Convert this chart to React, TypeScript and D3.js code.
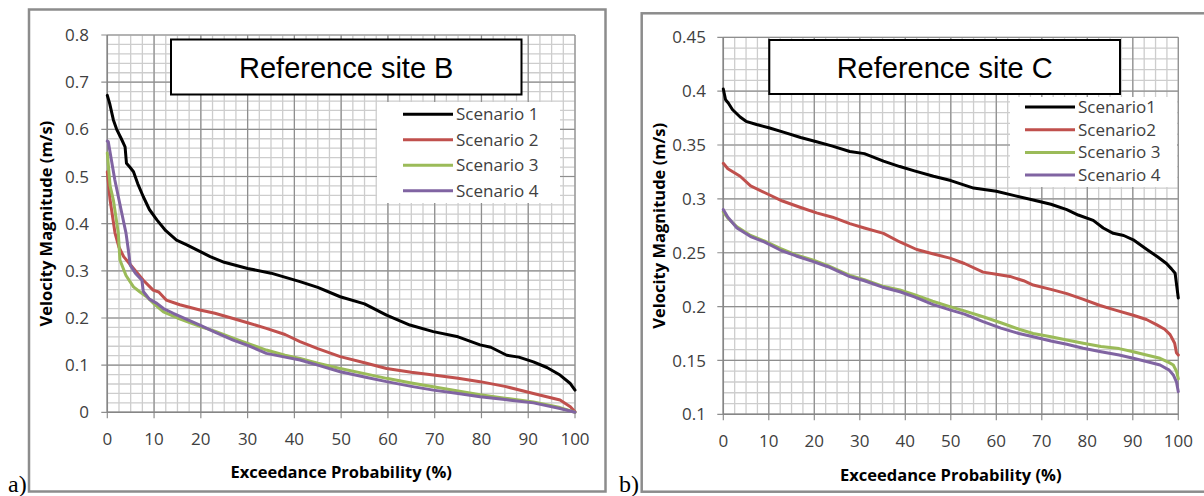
import React from 'react';
import * as d3 from 'd3';

type Pt = [number, number];

// ---------- Data: site B (exceedance %, velocity m/s) ----------
const siteBScenario1: Pt[] = [
  [0, 0.672], [0.5, 0.655], [1.3, 0.62], [2, 0.6], [3, 0.58], [3.8, 0.563], [4.1, 0.528],
  [4.8, 0.52], [5.6, 0.51], [6.5, 0.485], [7.7, 0.457], [9, 0.43], [10.6, 0.408],
  [12.5, 0.385], [14.8, 0.365], [17, 0.355], [20, 0.34], [22, 0.33], [25, 0.318],
  [30, 0.305], [35, 0.295], [41.2, 0.277], [45, 0.265], [49.8, 0.245], [55, 0.23],
  [59.7, 0.206], [64.7, 0.185], [69.7, 0.171], [75, 0.16], [79.7, 0.143], [82, 0.138],
  [85.4, 0.121], [88, 0.117], [91.1, 0.107], [94, 0.095], [96.8, 0.079], [99, 0.061], [100, 0.047],
];
const siteBScenario2: Pt[] = [
  [0, 0.51], [0.6, 0.45], [1.65, 0.38], [2.5, 0.35], [3.5, 0.33], [4.5, 0.318], [6, 0.3],
  [7.7, 0.28], [9.8, 0.259], [11, 0.255], [12.6, 0.238], [15.5, 0.228], [19.8, 0.217],
  [23, 0.21], [26.9, 0.199], [30, 0.19], [34, 0.178], [38, 0.165], [41.2, 0.15], [45, 0.135],
  [49.8, 0.118], [55, 0.105], [59.7, 0.093], [65, 0.085], [69.7, 0.079], [75, 0.072],
  [79.7, 0.065], [85, 0.055], [91.1, 0.04], [96.8, 0.026], [99, 0.012], [100, 0.001],
];
const siteBScenario3: Pt[] = [
  [0, 0.55], [0.6, 0.48], [1.3, 0.45], [2.35, 0.38], [2.7, 0.323], [4, 0.29], [5.6, 0.266],
  [7, 0.255], [8.4, 0.245], [10, 0.23], [12, 0.213], [15, 0.2], [19.8, 0.182], [23, 0.172],
  [26.9, 0.157], [30, 0.146], [34, 0.132], [38, 0.121], [41.2, 0.114], [45, 0.104],
  [49.8, 0.093], [55, 0.082], [59.7, 0.072], [65, 0.062], [69.7, 0.054], [75, 0.045],
  [79.7, 0.037], [85, 0.03], [91.1, 0.022], [96.8, 0.01], [100, 0],
];
const siteBScenario4: Pt[] = [
  [0, 0.575], [0.2, 0.574], [1.6, 0.493], [3.1, 0.422], [4, 0.38], [4.5, 0.344], [4.9, 0.312],
  [6, 0.295], [7.4, 0.28], [7.7, 0.256], [9, 0.24], [10.6, 0.231], [12, 0.22], [14.1, 0.21],
  [17, 0.197], [19.8, 0.185], [23, 0.17], [26.9, 0.153], [30, 0.142], [34, 0.125], [38, 0.117],
  [41.2, 0.111], [45, 0.1], [49.8, 0.086], [55, 0.075], [59.7, 0.065], [65, 0.055],
  [69.7, 0.047], [75, 0.04], [79.7, 0.033], [85, 0.027], [91.1, 0.02], [96.8, 0.008], [100, 0],
];

// ---------- Data: site C ----------
const siteCScenario1: Pt[] = [
  [0, 0.402], [0.5, 0.392], [1.1, 0.389], [2, 0.383], [3.7, 0.376], [5, 0.372], [7.3, 0.369],
  [10, 0.366], [13.2, 0.362], [17, 0.357], [20.5, 0.353], [24, 0.349], [27.8, 0.344],
  [31, 0.342], [35.2, 0.335], [38.8, 0.33], [42, 0.326], [46.2, 0.321], [50, 0.317],
  [55, 0.31], [60, 0.307], [64, 0.303], [68.1, 0.299], [72, 0.295], [75.5, 0.29], [78, 0.285],
  [81.3, 0.28], [83.5, 0.273], [85.7, 0.268], [88, 0.266], [90.1, 0.262], [93.1, 0.253],
  [95.5, 0.246], [97.4, 0.24], [98.5, 0.235], [99.3, 0.231], [100, 0.208],
];
const siteCScenario2: Pt[] = [
  [0, 0.333], [1, 0.328], [3.7, 0.321], [6, 0.312], [9.5, 0.305], [13, 0.298], [17, 0.292],
  [20.5, 0.287], [24, 0.283], [27.8, 0.277], [31, 0.273], [35.2, 0.268], [38.8, 0.26],
  [42.5, 0.253], [46, 0.249], [49.8, 0.245], [53, 0.24], [57.1, 0.232], [60, 0.23],
  [63, 0.228], [66, 0.224], [68.1, 0.22], [72, 0.216], [75.5, 0.212], [79, 0.207],
  [82.8, 0.201], [86, 0.197], [90.1, 0.192], [93, 0.188], [95.3, 0.183], [97, 0.179],
  [98.2, 0.174], [99.2, 0.166], [99.6, 0.157], [100, 0.155],
];
const siteCScenario3: Pt[] = [
  [0, 0.288], [1, 0.282], [3, 0.274], [6, 0.266], [9, 0.261], [12.5, 0.254], [16, 0.248],
  [19.8, 0.243], [23, 0.238], [27.8, 0.229], [31, 0.225], [35, 0.219], [38.8, 0.2154],
  [42, 0.211], [46, 0.205], [49.8, 0.2], [53, 0.196], [57.1, 0.1906], [61, 0.185],
  [65, 0.179], [68.1, 0.175], [72, 0.172], [75.5, 0.169], [79.1, 0.166], [83, 0.163],
  [87, 0.161], [90.1, 0.158], [93, 0.155], [96, 0.152], [98, 0.148], [98.9, 0.1458],
  [99.6, 0.14], [100, 0.133],
];
const siteCScenario4: Pt[] = [
  [0, 0.29], [1, 0.283], [3, 0.273], [6, 0.265], [9, 0.26], [12.5, 0.2525], [16, 0.247],
  [19.8, 0.2417], [23, 0.237], [27.8, 0.2278], [31, 0.224], [35, 0.218], [38.8, 0.2138],
  [42, 0.209], [46, 0.202], [49.8, 0.197], [53, 0.193], [57.1, 0.186], [61, 0.18],
  [65, 0.175], [68.1, 0.172], [72, 0.168], [75.5, 0.165], [79.1, 0.1613], [83, 0.158],
  [87, 0.155], [90.1, 0.152], [93, 0.149], [96, 0.1458], [98, 0.141], [98.9, 0.1365],
  [99.6, 0.13], [100, 0.121],
];

// ---------- Labels ----------
const xTickLabels = ['0', '10', '20', '30', '40', '50', '60', '70', '80', '90', '100'];
const siteBYTickLabels = ['0', '0.1', '0.2', '0.3', '0.4', '0.5', '0.6', '0.7', '0.8'];
const siteCYTickLabels = ['0.1', '0.15', '0.2', '0.25', '0.3', '0.35', '0.4', '0.45'];
const siteBLegend = ['Scenario 1', 'Scenario 2', 'Scenario 3', 'Scenario 4'];
const siteCLegend = ['Scenario1', 'Scenario2', 'Scenario 3', 'Scenario 4'];
const siteBTitle = 'Reference site B';
const siteCTitle = 'Reference site C';
const xAxisTitle = 'Exceedance Probability (%)';
const yAxisTitle = 'Velocity Magnitude (m/s)';
const seriesColors = ['#000000', '#C0504D', '#9BBB59', '#8064A2'];

const TICK_FONT = "'Open Sans', sans-serif";

interface ChartCfg {
  box: { x0: number; y0: number; x1: number; y1: number };
  plot: { x0: number; y0: number; x1: number; y1: number };
  yTicks: string[];
  yMinorStep: number;
  xMinorStep: number;
  series: Pt[][];
  title: string;
  titleBox: { x0: number; y0: number; x1: number; y1: number; baseline: number };
  legendLabels: string[];
  legend: { x0: number; y0: number; x1: number; y1: number; lineX0: number; lineX1: number; rowY0: number; rowDy: number; textDy: number };
  xLabelBaseline: number;
  xTitleBaseline: number;
  yLabelRight: number;
  yTitleX: number;
  tag: string;
  tagX: number;
  tagY: number;
}

function Chart({ cfg }: { cfg: ChartCfg }) {
  const yVals = cfg.yTicks.map(Number);
  const yMin = d3.min(yVals) as number;
  const yMax = d3.max(yVals) as number;
  const x = d3.scaleLinear().domain([0, 100]).range([cfg.plot.x0, cfg.plot.x1]);
  const y = d3.scaleLinear().domain([yMin, yMax]).range([cfg.plot.y1, cfg.plot.y0]);
  const xMajor = xTickLabels.map(Number);
  const nMinorX = Math.round(100 / cfg.xMinorStep);
  const xMinor = d3.range(0, nMinorX + 1).map((i) => i * cfg.xMinorStep);
  const nMinorY = Math.round((yMax - yMin) / cfg.yMinorStep);
  const yMinor = d3.range(0, nMinorY + 1).map((i) => yMin + i * cfg.yMinorStep);
  const line = d3
    .line<Pt>()
    .x((d) => x(d[0]))
    .y((d) => y(d[1]))
    .curve(d3.curveLinear);
  const b = cfg.box;
  const tb = cfg.titleBox;
  const lg = cfg.legend;
  const midY = (cfg.plot.y0 + cfg.plot.y1) / 2;
  const midX = (cfg.plot.x0 + cfg.plot.x1) / 2;
  return (
    <g>
      <rect x={b.x0} y={b.y0} width={b.x1 - b.x0} height={b.y1 - b.y0} fill="#ffffff" stroke="#8c8c8c" strokeWidth={2.5} />
      {/* minor grid */}
      {xMinor.map((v, i) => (
        <line key={'mx' + i} x1={x(v)} x2={x(v)} y1={cfg.plot.y0} y2={cfg.plot.y1} stroke="#cdcdcd" strokeWidth={1.3} />
      ))}
      {yMinor.map((v, i) => (
        <line key={'my' + i} x1={cfg.plot.x0} x2={cfg.plot.x1} y1={y(v)} y2={y(v)} stroke="#cdcdcd" strokeWidth={1.3} />
      ))}
      {/* major grid */}
      {xMajor.map((v, i) => (
        <line key={'Mx' + i} x1={x(v)} x2={x(v)} y1={cfg.plot.y0} y2={cfg.plot.y1 + 6} stroke="#8e8e8e" strokeWidth={1.2} />
      ))}
      {yVals.map((v, i) => (
        <line key={'My' + i} x1={cfg.plot.x0 - 6} x2={cfg.plot.x1} y1={y(v)} y2={y(v)} stroke="#8e8e8e" strokeWidth={1.2} />
      ))}
      {/* axes */}
      <line x1={cfg.plot.x0} x2={cfg.plot.x0} y1={cfg.plot.y0} y2={cfg.plot.y1} stroke="#868686" strokeWidth={1.5} />
      <line x1={cfg.plot.x0} x2={cfg.plot.x1} y1={cfg.plot.y1} y2={cfg.plot.y1} stroke="#868686" strokeWidth={1.5} />
      {/* tick labels */}
      {cfg.yTicks.map((t, i) => (
        <text key={'yl' + i} x={cfg.yLabelRight} y={y(yVals[i])} dy="0.36em" textAnchor="end" fontFamily={TICK_FONT} fontSize={17} fill="#404040">
          {t}
        </text>
      ))}
      {xTickLabels.map((t, i) => (
        <text key={'xl' + i} x={x(xMajor[i])} y={cfg.xLabelBaseline} textAnchor="middle" fontFamily={TICK_FONT} fontSize={17} fill="#404040">
          {t}
        </text>
      ))}
      {/* axis titles */}
      <text x={midX} y={cfg.xTitleBaseline} textAnchor="middle" fontFamily={TICK_FONT} fontWeight="bold" fontSize={16.5} fill="#000">
        {xAxisTitle}
      </text>
      <text transform={`translate(${cfg.yTitleX},${midY}) rotate(-90)`} textAnchor="middle" fontFamily={TICK_FONT} fontWeight="bold" fontSize={16.5} fill="#000">
        {yAxisTitle}
      </text>
      {/* series */}
      {cfg.series.map((s, i) => (
        <path key={'s' + i} d={line(s) || ''} fill="none" stroke={seriesColors[i]} strokeWidth={3} strokeLinejoin="round" strokeLinecap="round" />
      ))}
      {/* title */}
      <rect x={tb.x0} y={tb.y0} width={tb.x1 - tb.x0} height={tb.y1 - tb.y0} fill="#ffffff" stroke="#000" strokeWidth={2} />
      <text x={(tb.x0 + tb.x1) / 2} y={tb.baseline} textAnchor="middle" fontFamily="'Liberation Sans', Arial, sans-serif" fontSize={29} fill="#000">
        {cfg.title}
      </text>
      {/* legend */}
      <rect x={lg.x0} y={lg.y0} width={lg.x1 - lg.x0} height={lg.y1 - lg.y0} fill="#ffffff" />
      {cfg.legendLabels.map((l, i) => (
        <g key={'lg' + i}>
          <line x1={lg.lineX0} x2={lg.lineX1} y1={lg.rowY0 + i * lg.rowDy} y2={lg.rowY0 + i * lg.rowDy} stroke={seriesColors[i]} strokeWidth={3} />
          <text x={lg.lineX1 + 3} y={lg.rowY0 + i * lg.rowDy + lg.textDy} fontFamily={TICK_FONT} fontSize={17} fill="#404040">
            {l}
          </text>
        </g>
      ))}
      <text x={cfg.tagX} y={cfg.tagY} fontFamily="'Liberation Serif', 'Times New Roman', serif" fontSize={24} fill="#000">
        {cfg.tag}
      </text>
    </g>
  );
}

const chartB: ChartCfg = {
  box: { x0: 29, y0: 9.5, x1: 605.5, y1: 491.5 },
  plot: { x0: 107.3, y0: 35, x1: 575, y1: 412.3 },
  yTicks: siteBYTickLabels,
  yMinorStep: 0.02,
  xMinorStep: 2.5,
  series: [siteBScenario1, siteBScenario2, siteBScenario3, siteBScenario4],
  title: siteBTitle,
  titleBox: { x0: 171, y0: 39.5, x1: 521.5, y1: 94.5, baseline: 77.5 },
  legendLabels: siteBLegend,
  legend: { x0: 377, y0: 102, x1: 560, y1: 203, lineX0: 403, lineX1: 453, rowY0: 114.3, rowDy: 25.5, textDy: 6 },
  xLabelBaseline: 445,
  xTitleBaseline: 478,
  yLabelRight: 89,
  yTitleX: 52,
  tag: 'a)',
  tagX: 8,
  tagY: 492,
};

const chartC: ChartCfg = {
  box: { x0: 641.7, y0: 13.3, x1: 1212, y1: 491.7 },
  plot: { x0: 723.3, y0: 37.3, x1: 1178.3, y1: 414.3 },
  yTicks: siteCYTickLabels,
  yMinorStep: 0.01,
  xMinorStep: 2.5,
  series: [siteCScenario1, siteCScenario2, siteCScenario3, siteCScenario4],
  title: siteCTitle,
  titleBox: { x0: 769.3, y0: 40, x1: 1120, y1: 94, baseline: 78 },
  legendLabels: siteCLegend,
  legend: { x0: 1010, y0: 97, x1: 1177, y1: 187, lineX0: 1025, lineX1: 1075, rowY0: 107, rowDy: 22.7, textDy: 6 },
  xLabelBaseline: 447,
  xTitleBaseline: 480.5,
  yLabelRight: 706,
  yTitleX: 665,
  tag: 'b)',
  tagX: 619,
  tagY: 492,
};

export default function App() {
  return (
    <div style={{ position: 'absolute', left: 0, top: 0, width: 1204, height: 496, background: '#fff' }}>
      <svg width={1204} height={496} viewBox="0 0 1204 496" style={{ display: 'block' }}>
        <rect x={0} y={0} width={1204} height={496} fill="#ffffff" />
        <Chart cfg={chartB} />
        <Chart cfg={chartC} />
      </svg>
    </div>
  );
}
